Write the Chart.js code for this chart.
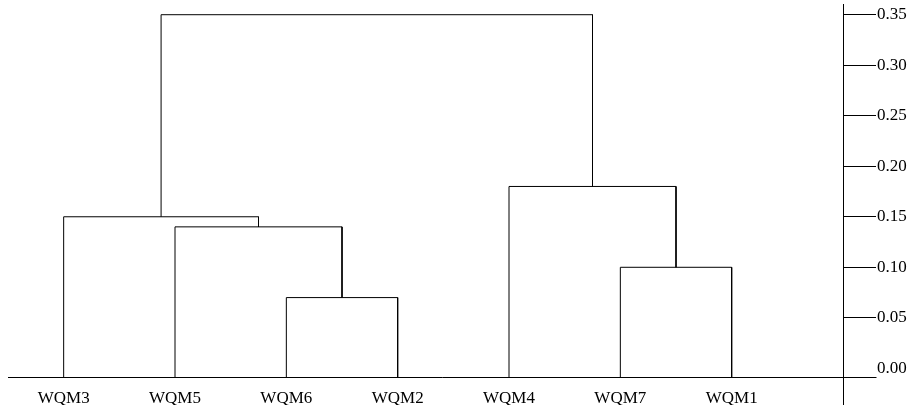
<!DOCTYPE html>
<html>
<head>
<meta charset="utf-8">
<style>
  html, body { margin: 0; padding: 0; background: #fff; }
  #wrap { width: 910px; height: 405px; }
</style>
<script src="https://cdn.jsdelivr.net/npm/chart.js@4/dist/chart.umd.min.js"></script>
</head>
<body>
<div id="wrap"><canvas id="dendro" width="910" height="405"></canvas></div>
<script>
// Leaves in drawing order, left to right
const leaves = ['WQM3', 'WQM5', 'WQM6', 'WQM2', 'WQM4', 'WQM7', 'WQM1'];

// Agglomeration steps: ids 0..6 are leaves, each step creates id 7, 8, ...
const mergeLeft   = [2, 5, 1, 0, 4, 10];
const mergeRight  = [3, 6, 7, 9, 8, 11];
const mergeHeight = [0.07, 0.10, 0.14, 0.15, 0.18, 0.35];

// Distance axis ticks
const distanceTicks = [0.00, 0.05, 0.10, 0.15, 0.20, 0.25, 0.30, 0.35];

// Floor and ceiling of the distance axis (leaf stems start at the floor)
const BASE = -0.0086;
const TOP = 0.3606;
const TICK_LEN = 33;

// Node positions: leaves at their index, clusters centred over their children
const nodeX = leaves.map((_, i) => i);
const nodeY = leaves.map(() => BASE);
const links = [];
mergeLeft.forEach((a, k) => {
  const b = mergeRight[k];
  const h = mergeHeight[k];
  links.push([
    { x: nodeX[a], y: nodeY[a] },
    { x: nodeX[a], y: h },
    { x: nodeX[b], y: h },
    { x: nodeX[b], y: nodeY[b] }
  ]);
  nodeX.push((nodeX[a] + nodeX[b]) / 2);
  nodeY.push(h);
});

const FONT = { family: "'Liberation Serif', 'Times New Roman', serif", size: 17 };

// Axis lines: distance axis runs to the bottom edge, baseline runs through to the tick ends
const axisLines = {
  id: 'axisLines',
  afterDraw(chart) {
    const ctx = chart.ctx;
    const xs = chart.scales.x, ys = chart.scales.y;
    const ax = Math.round(ys.left) + 0.5;
    const by = Math.round(ys.getPixelForValue(BASE)) + 0.5;
    ctx.save();
    ctx.strokeStyle = '#000';
    ctx.lineWidth = 1;
    ctx.beginPath();
    ctx.moveTo(ax, ys.top);
    ctx.lineTo(ax, chart.height);
    ctx.moveTo(xs.left, by);
    ctx.lineTo(ax + TICK_LEN, by);
    ctx.stroke();
    ctx.restore();
  }
};

new Chart(document.getElementById('dendro'), {
  type: 'scatter',
  data: {
    datasets: links.map(pts => ({
      data: pts,
      showLine: true,
      borderColor: '#000',
      borderWidth: 1,
      pointRadius: 0,
      pointHoverRadius: 0,
      tension: 0,
      fill: false
    }))
  },
  options: {
    responsive: false,
    animation: false,
    layout: { padding: { top: 4, left: 8, right: 0, bottom: 0 } },
    plugins: { legend: { display: false }, tooltip: { enabled: false } },
    scales: {
      x: {
        type: 'linear',
        position: 'bottom',
        min: -0.5,
        max: 7,
        afterBuildTicks: s => { s.ticks = leaves.map((_, i) => ({ value: i })); },
        afterFit: s => { s.height = 28; s.paddingLeft = 0; s.paddingRight = 0; },
        grid: { display: false, drawTicks: false },
        border: { display: false },
        ticks: {
          autoSkip: false,
          maxRotation: 0,
          padding: 11,
          color: '#000',
          font: FONT,
          callback: v => leaves[v]
        }
      },
      y: {
        type: 'linear',
        position: 'right',
        min: BASE,
        max: TOP,
        afterBuildTicks: s => { s.ticks = distanceTicks.map(v => ({ value: v })); },
        afterFit: s => { s.width = 67; s.paddingTop = 0; s.paddingBottom = 0; },
        grid: {
          drawOnChartArea: false,
          drawTicks: true,
          tickLength: TICK_LEN,
          color: c => (c.tick && c.tick.value === 0 ? 'rgba(0,0,0,0)' : '#000'),
          lineWidth: 1
        },
        border: { display: false },
        ticks: {
          padding: 1,
          color: '#000',
          font: FONT,
          callback: v => Number(v).toFixed(2)
        }
      }
    }
  },
  plugins: [axisLines]
});
</script>
</body>
</html>
